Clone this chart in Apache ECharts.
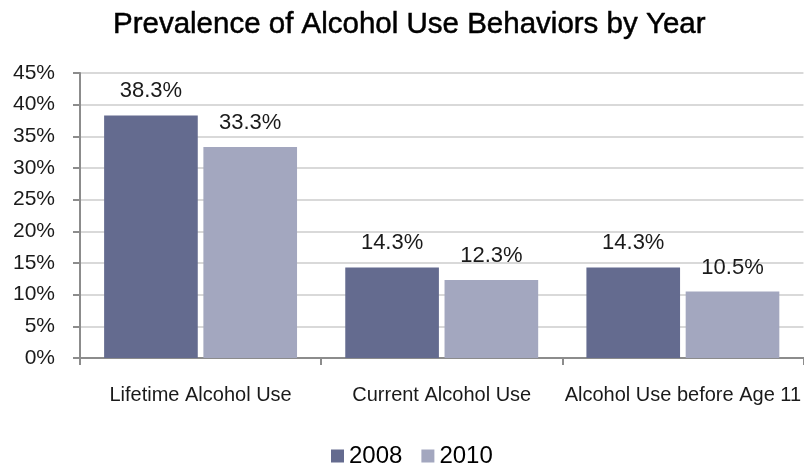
<!DOCTYPE html>
<html>
<head>
<meta charset="utf-8">
<script src="https://cdn.jsdelivr.net/npm/echarts@6/dist/echarts.min.js"></script>
<style>
  html, body { margin: 0; padding: 0; background: #ffffff; }
  #chart { width: 804px; height: 468px; }
</style>
</head>
<body>
<div id="chart"></div>
<script>
// Alcohol use behaviours, share of respondents by survey year
const categories = ['Lifetime Alcohol Use', 'Current Alcohol Use', 'Alcohol Use before Age 11'];
const values2008 = [38.3, 14.3, 14.3];
const values2010 = [33.3, 12.3, 10.5];
const yearNames = ['2008', '2010'];

const FONT = 'Liberation Sans, Arial, Helvetica, sans-serif';
const chart = echarts.init(document.getElementById('chart'));

const labelStyle = {
  show: true,
  position: 'top',
  distance: 13,
  fontFamily: FONT,
  fontSize: 22,
  color: '#1a1a1a',
  formatter: p => p.value.toFixed(1) + '%'
};

chart.setOption({
  animation: false,
  title: {
    text: 'Prevalence of Alcohol Use Behaviors by Year',
    left: 108,
    top: 5,
    textStyle: {
      fontFamily: FONT,
      fontSize: 29.5,
      fontWeight: 'normal',
      color: '#000000',
      textBorderColor: '#000000',
      textBorderWidth: 0.5
    }
  },
  legend: {
    data: yearNames,
    bottom: -5,
    left: 326,
    itemWidth: 13,
    itemHeight: 13,
    itemGap: 19,
    icon: 'rect',
    textStyle: {
      fontFamily: FONT,
      fontSize: 24,
      color: '#000000'
    }
  },
  grid: { left: 80, right: 0, top: 73, bottom: 110, containLabel: false },
  xAxis: {
    type: 'category',
    data: categories,
    axisLine: { lineStyle: { color: '#8c8c8c', width: 2 } },
    axisTick: { show: true, length: 7, lineStyle: { color: '#8c8c8c', width: 2 } },
    axisLabel: {
      interval: 0,
      margin: 27,
      fontFamily: FONT,
      fontSize: 20,
      color: '#1a1a1a'
    }
  },
  yAxis: {
    type: 'value',
    min: 0,
    max: 45,
    interval: 5,
    axisLine: { show: true, lineStyle: { color: '#8c8c8c', width: 2 } },
    axisTick: { show: true, length: 7, lineStyle: { color: '#8c8c8c', width: 2 } },
    axisLabel: {
      margin: 25,
      formatter: v => v + '%',
      fontFamily: FONT,
      fontSize: 21,
      color: '#1a1a1a'
    },
    splitLine: { lineStyle: { color: '#d9d9d9', width: 2 } }
  },
  series: [
    {
      name: yearNames[0],
      type: 'bar',
      data: values2008,
      barGap: '6%',
      barCategoryGap: '20%',
      itemStyle: { color: '#646b8f' },
      label: labelStyle
    },
    {
      name: yearNames[1],
      type: 'bar',
      data: values2010,
      barGap: '6%',
      barCategoryGap: '20%',
      itemStyle: { color: '#a3a7bf' },
      label: labelStyle
    }
  ]
});
</script>
</body>
</html>
